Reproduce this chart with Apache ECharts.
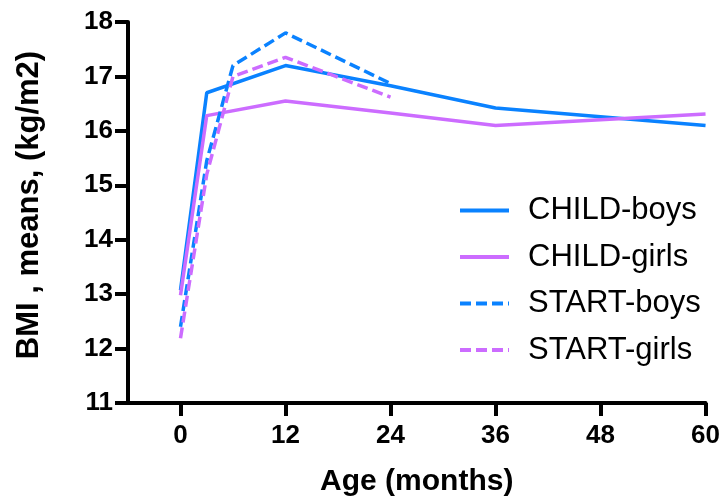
<!DOCTYPE html>
<html>
<head>
<meta charset="utf-8">
<script src="https://cdn.jsdelivr.net/npm/echarts@6/dist/echarts.min.js"></script>
<style>
html,body{margin:0;padding:0;background:#fff;}
#chart{width:723px;height:502px;}
</style>
</head>
<body>
<div id="chart"></div>
<script>
// Data
const childAges = [0, 3, 12, 24, 36, 60];
const childBoys = [13.07, 16.70, 17.20, 16.83, 16.42, 16.10];
const childGirls = [12.98, 16.28, 16.55, 16.33, 16.10, 16.31];
const startAges = [0, 3, 6, 12, 24];
const startBoys = [12.40, 15.45, 17.20, 17.80, 16.87];
const startGirls = [12.19, 15.20, 17.00, 17.35, 16.62];
const xTicks = [0, 12, 24, 36, 48, 60];
const seriesNames = ['CHILD-boys', 'CHILD-girls', 'START-boys', 'START-girls'];

const BLUE = '#0a82ff';
const PURPLE = '#cc6cff';
const FONT = 'Liberation Sans, Arial, Helvetica, sans-serif';

function pairs(xs, ys) { return xs.map((x, i) => [x, ys[i]]); }

function lineSeries(name, xs, ys, color, dashed) {
  return {
    name: name,
    type: 'line',
    data: pairs(xs, ys),
    symbol: 'none',
    smooth: false,
    animation: false,
    color: color,
    lineStyle: { color: color, width: 3.5, type: dashed ? [11, 5] : 'solid', cap: 'butt' }
  };
}

const chart = echarts.init(document.getElementById('chart'), null, { renderer: 'canvas' });
chart.setOption({
  backgroundColor: '#ffffff',
  animation: false,
  grid: { left: 128, right: 15, top: 22, bottom: 97, containLabel: false },
  xAxis: {
    type: 'value',
    min: -6,
    max: 60,
    name: 'Age (months)',
    nameLocation: 'middle',
    nameGap: 64,
    nameTextStyle: { color: '#000', fontSize: 30, fontWeight: 'bold', fontFamily: FONT },
    splitLine: { show: false },
    axisLine: { show: true, onZero: false, lineStyle: { color: '#000', width: 4 } },
    axisTick: { show: true, length: 13, customValues: xTicks, lineStyle: { color: '#000', width: 4 } },
    axisLabel: { customValues: xTicks, color: '#000', fontSize: 26, fontWeight: 'bold', fontFamily: FONT, margin: 20 }
  },
  yAxis: {
    type: 'value',
    min: 11,
    max: 18,
    interval: 1,
    splitLine: { show: false },
    axisLine: { show: true, onZero: false, lineStyle: { color: '#000', width: 4 } },
    axisTick: { show: true, length: 13, lineStyle: { color: '#000', width: 4 } },
    axisLabel: { color: '#000', fontSize: 26, fontWeight: 'bold', fontFamily: FONT, margin: 15 }
  },
  legend: {
    data: seriesNames,
    orient: 'vertical',
    left: 453,
    top: 190,
    itemWidth: 49,
    itemHeight: 14,
    itemGap: 15.5,
    itemStyle: { opacity: 0 },
    lineStyle: { width: 4 },
    textStyle: { color: '#000', fontSize: 31, fontFamily: FONT, lineHeight: 30, padding: [0, 0, 0, 14] },
    selectedMode: false
  },
  graphic: [{
    type: 'text',
    x: 29,
    y: 205,
    rotation: Math.PI / 2,
    style: {
      text: 'BMI , means, (kg/m2)',
      fill: '#000',
      font: 'bold 31px ' + FONT,
      align: 'center',
      verticalAlign: 'middle'
    }
  }],
  series: [
    lineSeries(seriesNames[0], childAges, childBoys, BLUE, false),
    lineSeries(seriesNames[1], childAges, childGirls, PURPLE, false),
    lineSeries(seriesNames[2], startAges, startBoys, BLUE, true),
    lineSeries(seriesNames[3], startAges, startGirls, PURPLE, true)
  ]
});
</script>
</body>
</html>
